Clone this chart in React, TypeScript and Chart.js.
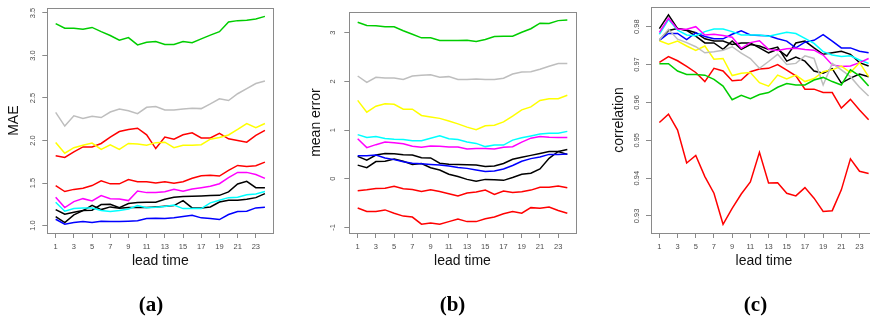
import React, { useEffect, useRef } from 'react';
import { Chart, registerables } from 'chart.js';

Chart.register(...registerables);

// ---------- data ----------
const LEAD = [1, 2, 3, 4, 5, 6, 7, 8, 9, 10, 11, 12, 13, 14, 15, 16, 17, 18, 19, 20, 21, 22, 23, 24];
const X_TICKS = [1, 3, 5, 7, 9, 11, 13, 15, 17, 19, 21, 23];
const X_TICK_LABELS = ['1', '3', '5', '7', '9', '11', '13', '15', '17', '19', '21', '23'];

// (a) MAE
const MAE_TICKS = [1.0, 1.5, 2.0, 2.5, 3.0, 3.5];
const MAE_TICK_LABELS = ['1.0', '1.5', '2.0', '2.5', '3.0', '3.5'];
const MAE_GREEN = [3.375, 3.32, 3.32, 3.31, 3.33, 3.28, 3.235, 3.18, 3.21, 3.125, 3.155, 3.165, 3.13, 3.13, 3.165, 3.15, 3.195, 3.24, 3.28, 3.395, 3.41, 3.415, 3.43, 3.46];
const MAE_GRAY = [2.33, 2.17, 2.29, 2.26, 2.285, 2.27, 2.335, 2.37, 2.35, 2.315, 2.39, 2.4, 2.36, 2.36, 2.37, 2.38, 2.375, 2.43, 2.49, 2.47, 2.55, 2.61, 2.67, 2.7];
const MAE_YELLOW = [1.977, 1.85, 1.915, 1.945, 1.97, 1.895, 1.95, 1.895, 1.965, 1.96, 1.945, 1.975, 1.98, 1.915, 1.945, 1.945, 1.95, 2.015, 2.035, 2.065, 2.13, 2.2, 2.15, 2.2];
const MAE_RED1 = [1.82, 1.8, 1.867, 1.925, 1.925, 1.965, 2.04, 2.105, 2.13, 2.145, 2.067, 1.905, 2.04, 2.015, 2.067, 2.09, 2.03, 2.03, 2.085, 2.02, 2.0, 1.98, 2.06, 2.12];
const MAE_RED2 = [1.469, 1.4, 1.425, 1.438, 1.47, 1.527, 1.49, 1.49, 1.54, 1.515, 1.515, 1.5, 1.515, 1.496, 1.515, 1.555, 1.586, 1.59, 1.582, 1.648, 1.707, 1.695, 1.703, 1.746];
const MAE_MAGENTA = [1.332, 1.211, 1.281, 1.316, 1.289, 1.352, 1.316, 1.3125, 1.293, 1.406, 1.387, 1.387, 1.398, 1.426, 1.402, 1.43, 1.445, 1.461, 1.492, 1.5625, 1.625, 1.625, 1.6, 1.555];
const MAE_CYAN = [1.273, 1.168, 1.199, 1.207, 1.207, 1.176, 1.164, 1.176, 1.195, 1.234, 1.21, 1.215, 1.223, 1.242, 1.199, 1.199, 1.199, 1.266, 1.297, 1.328, 1.332, 1.363, 1.371, 1.4];
const MAE_BLUE = [1.074, 1.016, 1.035, 1.047, 1.035, 1.05, 1.047, 1.047, 1.05, 1.055, 1.082, 1.086, 1.082, 1.09, 1.105, 1.121, 1.09, 1.082, 1.07, 1.129, 1.164, 1.168, 1.207, 1.215];
const MAE_BLACK1 = [1.1875, 1.133, 1.156, 1.176, 1.18, 1.246, 1.25, 1.211, 1.258, 1.27, 1.273, 1.273, 1.309, 1.332, 1.34, 1.344, 1.348, 1.352, 1.355, 1.395, 1.488, 1.52, 1.445, 1.445];
const MAE_BLACK2 = [1.105, 1.035, 1.125, 1.176, 1.238, 1.1875, 1.219, 1.203, 1.211, 1.211, 1.211, 1.219, 1.227, 1.234, 1.293, 1.207, 1.207, 1.219, 1.277, 1.297, 1.297, 1.309, 1.328, 1.375];

// (b) mean error
const ME_TICKS = [-1, 0, 1, 2, 3];
const ME_TICK_LABELS = ['-1', '0', '1', '2', '3'];
const ME_GREEN = [3.214, 3.147, 3.14, 3.12, 3.12, 3.04, 2.967, 2.893, 2.893, 2.84, 2.84, 2.84, 2.846, 2.82, 2.86, 2.92, 2.926, 2.926, 3.007, 3.08, 3.194, 3.187, 3.247, 3.26];
const ME_GRAY = [2.11, 1.977, 2.084, 2.07, 2.07, 2.037, 2.11, 2.124, 2.137, 2.084, 2.097, 2.037, 2.037, 2.05, 2.037, 2.037, 2.064, 2.15, 2.19, 2.197, 2.25, 2.31, 2.365, 2.365];
const ME_YELLOW = [1.61, 1.368, 1.49, 1.542, 1.529, 1.428, 1.428, 1.3, 1.268, 1.24, 1.187, 1.127, 1.06, 1.007, 1.087, 1.1, 1.167, 1.288, 1.415, 1.475, 1.609, 1.642, 1.642, 1.716];
const ME_CYAN = [0.906, 0.846, 0.866, 0.826, 0.813, 0.806, 0.78, 0.78, 0.833, 0.88, 0.82, 0.806, 0.753, 0.726, 0.66, 0.692, 0.692, 0.793, 0.84, 0.88, 0.92, 0.933, 0.933, 0.973];
const ME_MAGENTA = [0.82, 0.639, 0.7, 0.753, 0.74, 0.719, 0.666, 0.646, 0.672, 0.666, 0.652, 0.652, 0.612, 0.619, 0.619, 0.612, 0.646, 0.659, 0.753, 0.833, 0.866, 0.853, 0.846, 0.846];
const ME_BLUE = [0.473, 0.473, 0.487, 0.427, 0.393, 0.347, 0.32, 0.307, 0.293, 0.28, 0.26, 0.233, 0.213, 0.18, 0.147, 0.16, 0.2, 0.273, 0.36, 0.413, 0.447, 0.5, 0.5, 0.507];
const ME_BLACK1 = [0.46, 0.38, 0.487, 0.52, 0.513, 0.493, 0.487, 0.433, 0.427, 0.32, 0.3, 0.293, 0.287, 0.28, 0.253, 0.26, 0.313, 0.4, 0.44, 0.48, 0.52, 0.56, 0.56, 0.6];
const ME_BLACK2 = [0.28, 0.227, 0.353, 0.36, 0.407, 0.36, 0.293, 0.313, 0.227, 0.18, 0.093, 0.047, -0.013, -0.053, -0.013, -0.02, -0.033, 0.027, 0.093, 0.113, 0.2, 0.42, 0.56, 0.5];
const ME_RED1 = [-0.247, -0.227, -0.2, -0.193, -0.153, -0.207, -0.22, -0.26, -0.227, -0.26, -0.307, -0.353, -0.293, -0.273, -0.233, -0.32, -0.253, -0.28, -0.267, -0.233, -0.173, -0.173, -0.147, -0.187];
const ME_RED2 = [-0.6, -0.673, -0.673, -0.64, -0.707, -0.767, -0.787, -0.933, -0.907, -0.933, -0.88, -0.827, -0.88, -0.88, -0.82, -0.787, -0.72, -0.673, -0.707, -0.593, -0.607, -0.58, -0.653, -0.707];

// (c) correlation
const CO_TICKS = [0.93, 0.94, 0.95, 0.96, 0.97, 0.98];
const CO_TICK_LABELS = ['0.93', '0.94', '0.95', '0.96', '0.97', '0.98'];
const CO_GREEN = [0.9702, 0.9702, 0.9683, 0.9674, 0.9674, 0.9672, 0.9661, 0.9643, 0.9607, 0.9619, 0.961, 0.9621, 0.9626, 0.964, 0.965, 0.9646, 0.9646, 0.9659, 0.9666, 0.9655, 0.9646, 0.9686, 0.967, 0.9643];
const CO_GRAY = [0.9765, 0.9793, 0.9767, 0.9758, 0.9747, 0.9731, 0.9734, 0.9738, 0.9747, 0.973, 0.9716, 0.969, 0.9708, 0.9727, 0.97, 0.9703, 0.9723, 0.9716, 0.9646, 0.9703, 0.9686, 0.9668, 0.964, 0.9617];
const CO_YELLOW = [0.9763, 0.9754, 0.9762, 0.9749, 0.9737, 0.9749, 0.9714, 0.9716, 0.9671, 0.9677, 0.9679, 0.9652, 0.9643, 0.9672, 0.9662, 0.9672, 0.9655, 0.9663, 0.9681, 0.9686, 0.9696, 0.9679, 0.9705, 0.9668];
const CO_RED1 = [0.9706, 0.9721, 0.971, 0.9695, 0.9679, 0.9655, 0.969, 0.9683, 0.9657, 0.9659, 0.9681, 0.9688, 0.969, 0.97, 0.9685, 0.967, 0.9635, 0.9635, 0.9626, 0.9626, 0.9585, 0.9608, 0.958, 0.9554];
const CO_RED2 = [0.9547, 0.9569, 0.9527, 0.944, 0.946, 0.9404, 0.936, 0.9278, 0.932, 0.9358, 0.939, 0.9468, 0.9387, 0.9388, 0.936, 0.9353, 0.9375, 0.9347, 0.9312, 0.9314, 0.9369, 0.9451, 0.9418, 0.9412];
const CO_MAGENTA = [0.9785, 0.9822, 0.9793, 0.9793, 0.98, 0.9778, 0.978, 0.9777, 0.9772, 0.9743, 0.9758, 0.9763, 0.974, 0.9737, 0.9742, 0.9743, 0.974, 0.9738, 0.9725, 0.9699, 0.9695, 0.9696, 0.9705, 0.9716];
const CO_CYAN = [0.978, 0.9819, 0.9791, 0.9778, 0.9776, 0.9787, 0.9794, 0.9794, 0.9787, 0.9778, 0.9778, 0.9778, 0.9775, 0.978, 0.9785, 0.9782, 0.9769, 0.9756, 0.9734, 0.9725, 0.9721, 0.9723, 0.9712, 0.9703];
const CO_BLUE = [0.9764, 0.9782, 0.9782, 0.9766, 0.9784, 0.9774, 0.9768, 0.9768, 0.978, 0.9789, 0.9778, 0.9777, 0.9776, 0.9768, 0.9762, 0.9744, 0.9759, 0.9764, 0.9779, 0.9762, 0.9744, 0.9744, 0.9735, 0.9731];
const CO_BLACK1 = [0.9795, 0.9831, 0.9795, 0.979, 0.9775, 0.9757, 0.9757, 0.974, 0.9762, 0.974, 0.9753, 0.9749, 0.974, 0.9746, 0.9709, 0.972, 0.9709, 0.9683, 0.9677, 0.9689, 0.9651, 0.9664, 0.9675, 0.9668];
const CO_BLACK2 = [0.9765, 0.979, 0.9795, 0.9791, 0.9784, 0.9768, 0.9762, 0.9762, 0.9753, 0.9757, 0.9757, 0.9744, 0.9731, 0.974, 0.9722, 0.9757, 0.9762, 0.9744, 0.9727, 0.9731, 0.9735, 0.9727, 0.9705, 0.9696];

// ---------- styling ----------
const C_GREEN = '#00CD00';
const C_GRAY = '#BEBEBE';
const C_YELLOW = '#FFFF00';
const C_RED = '#FF0000';
const C_MAGENTA = '#FF00FF';
const C_CYAN = '#00FFFF';
const C_BLUE = '#0000FF';
const C_BLACK = '#000000';

const SANS = '"Liberation Sans", Arial, Helvetica, sans-serif';
const SERIF = '"Liberation Serif", "Times New Roman", serif';
const AXIS_COLOR = '#8a8a8a';
const TICK_TEXT = '#4d4d4d';
const TICK_FONT = 7.5;
const H = 321;
const AREA_TOP = 7;
const AREA_BOTTOM = 233;

type Series = { values: number[]; color: string };

type PanelCfg = {
  left: number;
  width: number;
  areaLeft: number;
  areaRight: number;
  yMin: number;
  yMax: number;
  yTicks: number[];
  yLabels: string[];
  yTickPad: number;
  yTitle: string;
  yTitlePad: number;
  series: Series[];
};

const boxPlugin = {
  id: 'rbox',
  afterDatasetsDraw(chart: any) {
    const { ctx, chartArea } = chart;
    const l = Math.round(chartArea.left) + 0.5;
    const t = Math.round(chartArea.top) + 0.5;
    const r = Math.round(chartArea.right) + 0.5;
    const b = Math.round(chartArea.bottom) + 0.5;
    ctx.save();
    ctx.strokeStyle = AXIS_COLOR;
    ctx.lineWidth = 1;
    ctx.strokeRect(l, t, r - l, b - t);
    ctx.restore();
  },
};

function Panel({ cfg }: { cfg: PanelCfg }) {
  const ref = useRef<HTMLCanvasElement | null>(null);
  useEffect(() => {
    if (!ref.current) return;
    const span = LEAD[LEAD.length - 1] - LEAD[0];
    const xMin = LEAD[0] - 0.04 * span;
    const xMax = LEAD[LEAD.length - 1] + 0.04 * span;
    const chart = new Chart(ref.current, {
      type: 'line',
      data: {
        datasets: cfg.series.map((s) => ({
          data: LEAD.map((x, i) => ({ x, y: s.values[i] })),
          borderColor: s.color,
          backgroundColor: s.color,
          borderWidth: 1.5,
          pointRadius: 0,
          tension: 0,
          fill: false,
        })),
      },
      options: {
        responsive: false,
        animation: false,
        events: [],
        layout: { padding: { left: 0, top: AREA_TOP, right: cfg.width - cfg.areaRight, bottom: 0 } },
        plugins: { legend: { display: false }, tooltip: { enabled: false }, title: { display: false } },
        scales: {
          x: {
            type: 'linear',
            position: 'bottom',
            min: xMin,
            max: xMax,
            afterBuildTicks: (s: any) => {
              s.ticks = X_TICKS.map((v) => ({ value: v }));
            },
            afterFit: (s: any) => {
              s.height = H - AREA_BOTTOM;
            },
            ticks: {
              autoSkip: false,
              minRotation: 0,
              maxRotation: 0,
              padding: 4.2,
              font: { family: SANS, size: TICK_FONT },
              color: TICK_TEXT,
              callback: (_v: any, i: number) => X_TICK_LABELS[i],
            },
            grid: { drawOnChartArea: false, drawTicks: true, tickLength: 5, color: AXIS_COLOR },
            border: { display: false },
            title: {
              display: true,
              text: 'lead time',
              font: { family: SANS, size: 14 },
              color: '#111',
              padding: { top: 0, bottom: 51.5 },
            },
          },
          y: {
            type: 'linear',
            position: 'left',
            min: cfg.yMin,
            max: cfg.yMax,
            afterBuildTicks: (s: any) => {
              s.ticks = cfg.yTicks.map((v) => ({ value: v }));
            },
            afterFit: (s: any) => {
              s.width = cfg.areaLeft;
            },
            ticks: {
              autoSkip: false,
              minRotation: 90,
              maxRotation: 90,
              crossAlign: 'center',
              padding: cfg.yTickPad,
              font: { family: SANS, size: TICK_FONT },
              color: TICK_TEXT,
              callback: (_v: any, i: number) => cfg.yLabels[i],
            },
            grid: { drawOnChartArea: false, drawTicks: true, tickLength: 5, color: AXIS_COLOR },
            border: { display: false },
            title: {
              display: true,
              text: cfg.yTitle,
              font: { family: SANS, size: 14 },
              color: '#111',
              padding: { top: cfg.yTitlePad, bottom: 0 },
            },
          },
        },
      } as any,
      plugins: [boxPlugin],
    });
    return () => chart.destroy();
  }, [cfg]);
  return (
    <div style={{ position: 'absolute', left: cfg.left, top: 0, width: cfg.width, height: H }}>
      <canvas ref={ref} width={cfg.width} height={H} style={{ display: 'block' }} />
    </div>
  );
}

const PANEL_A: PanelCfg = {
  left: 0,
  width: 290,
  areaLeft: 47.3,
  areaRight: 273.3,
  yMin: 0.912,
  yMax: 3.555,
  yTicks: MAE_TICKS,
  yLabels: MAE_TICK_LABELS,
  yTickPad: 3.8,
  yTitle: 'MAE',
  yTitlePad: 5.3,
  series: [
    { values: MAE_GREEN, color: C_GREEN },
    { values: MAE_GRAY, color: C_GRAY },
    { values: MAE_YELLOW, color: C_YELLOW },
    { values: MAE_RED1, color: C_RED },
    { values: MAE_RED2, color: C_RED },
    { values: MAE_MAGENTA, color: C_MAGENTA },
    { values: MAE_CYAN, color: C_CYAN },
    { values: MAE_BLUE, color: C_BLUE },
    { values: MAE_BLACK1, color: C_BLACK },
    { values: MAE_BLACK2, color: C_BLACK },
  ],
};

const PANEL_B: PanelCfg = {
  left: 290,
  width: 290,
  areaLeft: 59.3,
  areaRight: 285.7,
  yMin: -1.114,
  yMax: 3.42,
  yTicks: ME_TICKS,
  yLabels: ME_TICK_LABELS,
  yTickPad: 7.7,
  yTitle: 'mean error',
  yTitlePad: 17.9,
  series: [
    { values: ME_GREEN, color: C_GREEN },
    { values: ME_GRAY, color: C_GRAY },
    { values: ME_YELLOW, color: C_YELLOW },
    { values: ME_CYAN, color: C_CYAN },
    { values: ME_MAGENTA, color: C_MAGENTA },
    { values: ME_RED1, color: C_RED },
    { values: ME_RED2, color: C_RED },
    { values: ME_BLUE, color: C_BLUE },
    { values: ME_BLACK1, color: C_BLACK },
    { values: ME_BLACK2, color: C_BLACK },
  ],
};

const PANEL_C: PanelCfg = {
  left: 580,
  width: 300,
  areaLeft: 71,
  areaRight: 297,
  yMin: 0.9255,
  yMax: 0.9852,
  yTicks: CO_TICKS,
  yLabels: CO_TICK_LABELS,
  yTickPad: 2.0,
  yTitle: 'correlation',
  yTitlePad: 30.7,
  series: [
    { values: CO_GREEN, color: C_GREEN },
    { values: CO_GRAY, color: C_GRAY },
    { values: CO_YELLOW, color: C_YELLOW },
    { values: CO_RED1, color: C_RED },
    { values: CO_RED2, color: C_RED },
    { values: CO_MAGENTA, color: C_MAGENTA },
    { values: CO_CYAN, color: C_CYAN },
    { values: CO_BLUE, color: C_BLUE },
    { values: CO_BLACK1, color: C_BLACK },
    { values: CO_BLACK2, color: C_BLACK },
  ],
};

const PANEL_LABELS = [
  { text: '(a)', center: 151 },
  { text: '(b)', center: 452.5 },
  { text: '(c)', center: 755.5 },
];

export default function App() {
  return (
    <div
      style={{
        position: 'absolute',
        left: 0,
        top: 0,
        width: 870,
        height: H,
        overflow: 'hidden',
        background: '#ffffff',
      }}
    >
      <Panel cfg={PANEL_A} />
      <Panel cfg={PANEL_B} />
      <Panel cfg={PANEL_C} />
      {PANEL_LABELS.map((p) => (
        <div
          key={p.text}
          style={{
            position: 'absolute',
            left: p.center - 50,
            top: 294.4,
            width: 100,
            textAlign: 'center',
            fontFamily: SERIF,
            fontWeight: 'bold',
            fontSize: 21,
            lineHeight: '21px',
            color: '#000',
          }}
        >
          {p.text}
        </div>
      ))}
    </div>
  );
}
